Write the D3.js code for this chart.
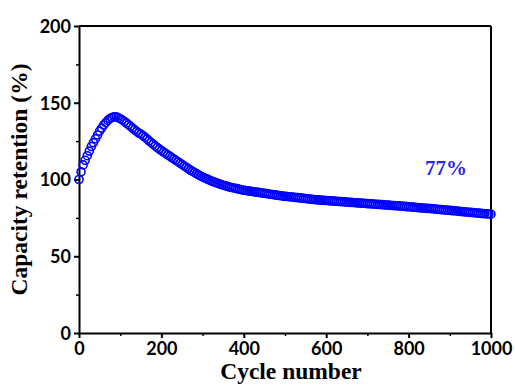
<!DOCTYPE html>
<html>
<head>
<meta charset="utf-8">
<script src="https://cdn.jsdelivr.net/npm/d3@7"></script>
<style>
  body { margin: 0; background: #fff; }
  .tick text { font-family: Lato, "Open Sans", sans-serif; font-weight: bold; font-size: 18px; fill: #000; }
  .axtitle { font-family: "Liberation Serif", "Times New Roman", serif; font-weight: bold; font-size: 23.5px; }
</style>
</head>
<body>
<div class="container"></div>
<script>
// cycle number, every 5 cycles
let cycles = d3.range(0, 1001, 5);
// capacity retention (%)
let retention = [
  100.0, 105.0, 109.5, 112.5, 115.5, 118.5, 121.5, 124.0, 126.5, 129.0,
  131.5, 133.5, 135.5, 137.0, 138.5, 139.7, 140.4, 140.8, 140.8, 140.3,
  139.6, 138.8, 137.8, 136.8, 135.7, 134.6, 133.5, 132.4, 131.3, 130.3,
  129.6, 128.6, 127.6, 126.4, 125.2, 124.1, 123.0, 121.9, 120.8, 119.8,
  118.8, 117.9, 117.0, 116.1, 115.2, 114.3, 113.4, 112.5, 111.6, 110.7,
  109.8, 108.9, 108.0, 107.1, 106.2, 105.4, 104.6, 103.8, 103.0, 102.3,
  101.6, 101.0, 100.4,  99.8,  99.2,  98.7,  98.2,  97.7,  97.2,  96.7,
   96.3,  95.9,  95.5,  95.1,  94.8,  94.5,  94.2,  93.9,  93.6,  93.3,
   93.0,  92.8,  92.6,  92.4,  92.2,  92.0,  91.8,  91.6,  91.4,  91.2,
   91.0,  90.8,  90.6,  90.4,  90.2,  90.0,  89.8,  89.6,  89.4,  89.2,
   89.0,  88.9,  88.8,  88.6,  88.5,  88.3,  88.2,  88.0,  87.9,  87.7,
   87.6,  87.4,  87.3,  87.1,  87.0,  86.8,  86.7,  86.6,  86.5,  86.4,
   86.3,  86.2,  86.1,  86.0,  85.9,  85.8,  85.7,  85.6,  85.5,  85.4,
   85.3,  85.2,  85.1,  85.0,  84.9,  84.8,  84.7,  84.6,  84.5,  84.4,
   84.3,  84.2,  84.1,  84.0,  83.9,  83.8,  83.7,  83.6,  83.5,  83.4,
   83.3,  83.2,  83.1,  83.0,  82.9,  82.8,  82.7,  82.6,  82.5,  82.3,
   82.2,  82.1,  82.0,  81.9,  81.8,  81.6,  81.5,  81.4,  81.3,  81.2,
   81.1,  81.0,  80.9,  80.7,  80.6,  80.5,  80.4,  80.2,  80.1,  80.0,
   79.9,  79.7,  79.6,  79.5,  79.4,  79.2,  79.1,  79.0,  78.8,  78.7,
   78.6,  78.5,  78.3,  78.2,  78.1,  77.9,  77.8,  77.7,  77.6,  77.5,
   77.4
];
let xTicks = [0, 200, 400, 600, 800, 1000];
let yTicks = [0, 50, 100, 150, 200];
let annotation = "77%";

let margin = {top: 26, right: 24, bottom: 53, left: 79},
  width = 515 - margin.left - margin.right,
  height = 386 - margin.top - margin.bottom;

let x = d3.scaleLinear().domain([0, 1000]).range([0, width]);
let y = d3.scaleLinear().domain([0, 200]).range([height, 0]);

let svg = d3.select(".container").append("svg")
    .attr("width", 515)
    .attr("height", 386)
  .append("g")
    .attr("transform", "translate(" + margin.left + "," + margin.top + ")");

// minor ticks
svg.append("g")
  .attr("transform", "translate(0," + height + ")")
  .call(d3.axisBottom(x).tickValues([100, 300, 500, 700, 900]).tickSize(3).tickFormat(""))
  .call(g => g.select(".domain").remove())
  .selectAll("line").attr("stroke-width", 1.5);
svg.append("g")
  .call(d3.axisLeft(y).tickValues([25, 75, 125, 175]).tickSize(3).tickFormat(""))
  .call(g => g.select(".domain").remove())
  .selectAll("line").attr("stroke-width", 1.5);

// major axes
let xAxis = svg.append("g")
  .attr("transform", "translate(0," + height + ")")
  .call(d3.axisBottom(x).tickValues(xTicks).tickFormat(d3.format("d"))
    .tickSize(5).tickSizeOuter(0).tickPadding(4));
let yAxis = svg.append("g")
  .call(d3.axisLeft(y).tickValues(yTicks).tickSize(5).tickSizeOuter(0).tickPadding(3));
[xAxis, yAxis].forEach(a => {
  a.select(".domain").attr("stroke-width", 2);
  a.selectAll(".tick line").attr("stroke-width", 2);
});
yAxis.selectAll(".tick text").attr("dy", "0.36em");

// frame top & right
svg.append("line").attr("x1", 0).attr("x2", width).attr("y1", 0).attr("y2", 0)
  .attr("stroke", "#000").attr("stroke-width", 2);
svg.append("line").attr("x1", width).attr("x2", width).attr("y1", 0).attr("y2", height)
  .attr("stroke", "#000").attr("stroke-width", 2);

// data points
svg.append("g").selectAll("circle")
  .data(cycles.map((c, i) => [c, retention[i]]))
  .enter().append("circle")
    .attr("cx", d => x(d[0]))
    .attr("cy", d => y(d[1]))
    .attr("r", 4)
    .attr("fill", "none")
    .attr("stroke", "#0000ff")
    .attr("stroke-width", 1.6);

svg.append("text")
  .text(annotation)
  .attr("x", x(840))
  .attr("y", y(103))
  .attr("text-anchor", "start")
  .style("font-family", "'Liberation Serif', serif")
  .style("font-weight", "bold")
  .style("font-size", "21px")
  .style("fill", "#2a2ae8");

svg.append("text")
  .attr("class", "axtitle")
  .text("Cycle number")
  .attr("text-anchor", "middle")
  .attr("x", width / 2 + 6)
  .attr("y", height + 46);

svg.append("text")
  .attr("class", "axtitle")
  .text("Capacity retention (%)")
  .attr("text-anchor", "middle")
  .attr("transform", "translate(" + (-52) + "," + (height / 2) + ") rotate(-90)");
</script>
</body>
</html>
